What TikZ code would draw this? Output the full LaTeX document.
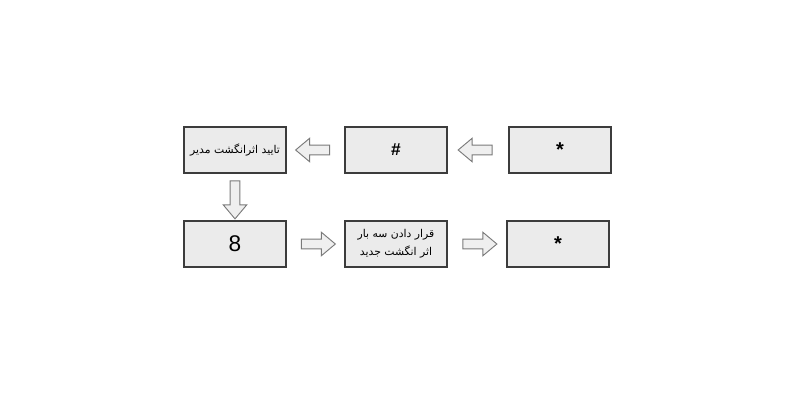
\documentclass[tikz,border=0pt]{standalone}
\usepackage{fontspec}
\setmainfont{Liberation Sans}
\newfontfamily\farsifont[Script=Arabic]{DejaVu Sans}
\TeXXeTstate=1
\usepackage{tikz}
\usetikzlibrary{shapes.arrows, positioning, calc}
\definecolor{boxgray}{HTML}{EBEBEB}
\definecolor{boxline}{HTML}{3C3C3C}
\definecolor{arrowgray}{HTML}{EFEFEF}
\definecolor{arrowline}{HTML}{7A7A7A}

\begin{document}
\begin{tikzpicture}[x=0.75pt, y=-0.75pt,
            box/.style={draw=boxline, line width=1.1pt, fill=boxgray, minimum width=76.5pt, minimum height=34.5pt, inner sep=0pt, align=center},
            flow/.style={single arrow, draw=arrowline, fill=arrowgray, line width=0.7pt, inner sep=3.25pt, single arrow head extend=5.25pt, single arrow tip angle=80, minimum height=25.5pt},
            fa/.style={font=\farsifont\fontsize{8.1}{13.5}\selectfont}]
            \useasboundingbox (0,0) rectangle (800,400);

            % top row
            \node[box, fa] (verify) at (235,150) {\beginR تایید اثرانگشت مدیر\endR};
            \node[box, font=\bfseries\fontsize{13}{15}\selectfont] (hash) at (396,150) {\#};
            \node[box, font=\bfseries\fontsize{15}{17}\selectfont] (startop) at (560,150) {*};

            % bottom row
            \node[box, font=\fontsize{17}{19}\selectfont] (eight) at (235,244) {8};
            \node[box, fa] (place) at (396,244) {\beginR قرار دادن سه بار\endR\\\beginR اثر انگشت جدید\endR};
            \node[box, font=\bfseries\fontsize{15}{17}\selectfont] (starbot) at (558,244) {*};

            % arrows
            \node[flow, shape border rotate=180] (a1) at ($(startop.west)!0.5!(hash.east)$) {};
            \node[flow, shape border rotate=180] (a2) at ($(hash.west)!0.5!(verify.east)$) {};
            \node[flow, shape border rotate=270, minimum height=28.5pt] (a3) at ($(verify.south)!0.5!(eight.north)$) {};
            \node[flow] (a4) at ($(eight.east)!0.5!(place.west)$) {};
            \node[flow] (a5) at ($(place.east)!0.5!(starbot.west)$) {};
        \end{tikzpicture}
\end{document}
